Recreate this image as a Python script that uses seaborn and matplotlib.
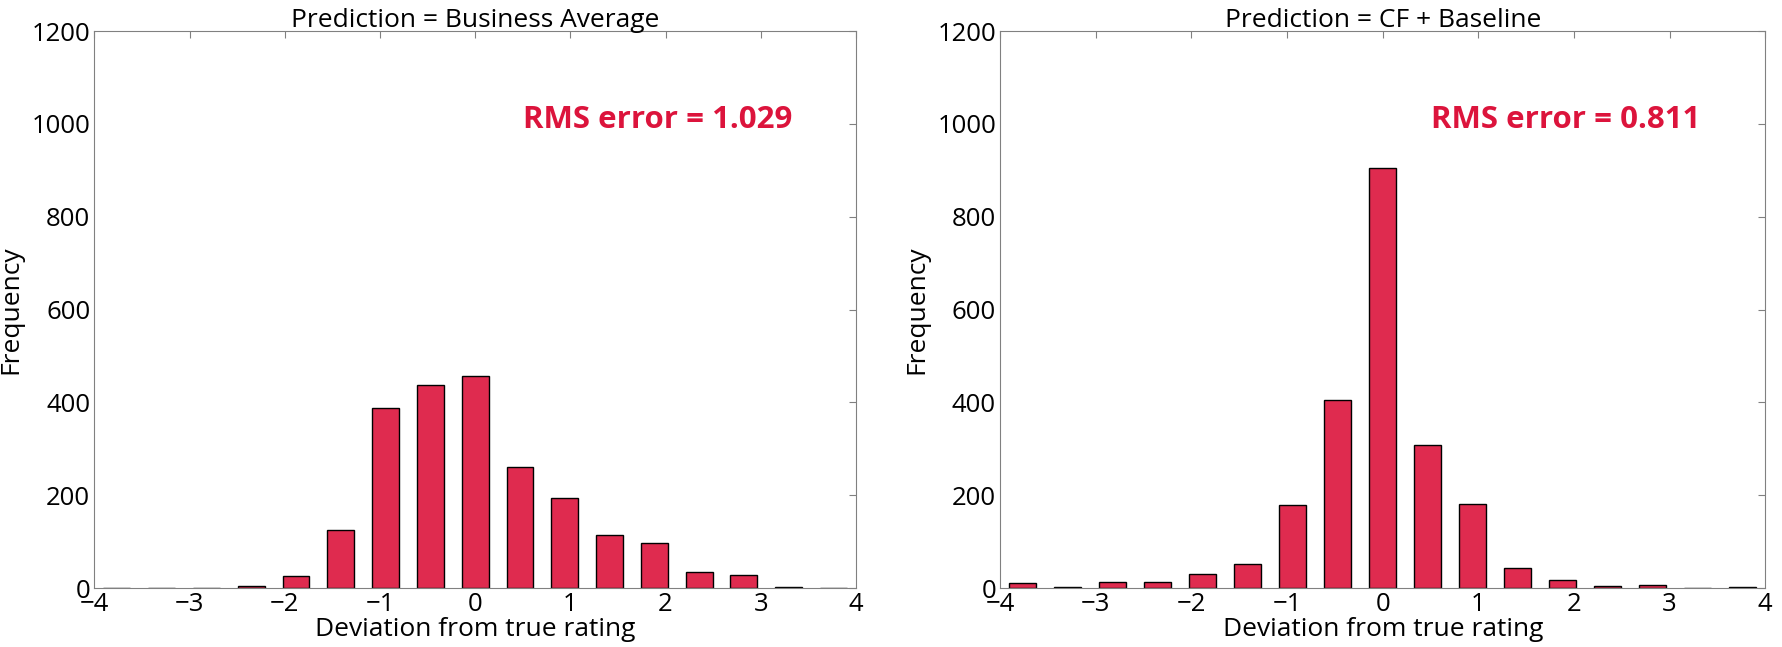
import numpy as np
import pandas as pd
import matplotlib
matplotlib.use('Agg')
import matplotlib.pyplot as plt
import seaborn as sns

sns.set_style('white')
plt.rcParams['font.family'] = ['Open Sans', 'DejaVu Sans']
plt.rcParams['text.color'] = 'black'
plt.rcParams['axes.labelcolor'] = 'black'
plt.rcParams['xtick.color'] = 'black'
plt.rcParams['ytick.color'] = 'black'
plt.rcParams['xtick.direction'] = 'in'
plt.rcParams['ytick.direction'] = 'in'
plt.rcParams['xtick.top'] = True
plt.rcParams['ytick.right'] = True

# 17 bins over [-4, 4], counts
bin_centers = np.linspace(-4, 4, 18)[:-1] + 8 / 34
counts_business_avg = [0, 0, 0, 4, 26, 125, 387, 437, 456, 261, 195, 115, 97, 34, 28, 2, 0]
counts_cf_baseline = [10, 3, 13, 13, 30, 51, 179, 405, 905, 308, 181, 43, 17, 4, 7, 0, 2]

titles = ['Prediction = Business Average', 'Prediction = CF + Baseline']
rms_errors = [1.029, 0.811]

fig = plt.figure(figsize=(17.83, 6.47), dpi=100)
ax1 = fig.add_axes([0.053, 0.091, 0.427, 0.861])
ax2 = fig.add_axes([0.561, 0.091, 0.429, 0.861])

for ax, counts, title, rms in zip([ax1, ax2], [counts_business_avg, counts_cf_baseline], titles, rms_errors):
    df = pd.DataFrame({'dev': bin_centers, 'n': counts})
    sns.histplot(data=df, x='dev', weights='n', bins=17, binrange=(-4, 4), shrink=0.6,
                 color='crimson', alpha=0.9, edgecolor='black', linewidth=1, ax=ax)
    ax.set_xlim(-4, 4)
    ax.set_ylim(0, 1200)
    ax.set_xticks(range(-4, 5))
    ax.set_yticks(range(0, 1201, 200))
    ax.tick_params(labelsize=18.5, length=5, width=0.8, color='#808080', labelcolor='black', pad=3)
    for s in ax.spines.values():
        s.set_color('#808080')
        s.set_linewidth(0.8)
    ax.set_title(title, fontsize=19, pad=3)
    ax.set_xlabel('Deviation from true rating', fontsize=19, labelpad=0)
    ax.set_ylabel('Frequency', fontsize=19, labelpad=6)
    ax.text(0.5, 992, 'RMS error = {:.3f}'.format(rms), color='crimson',
            fontsize=22.5, fontweight='bold', va='baseline')

fig.savefig('out.png', dpi=100)
